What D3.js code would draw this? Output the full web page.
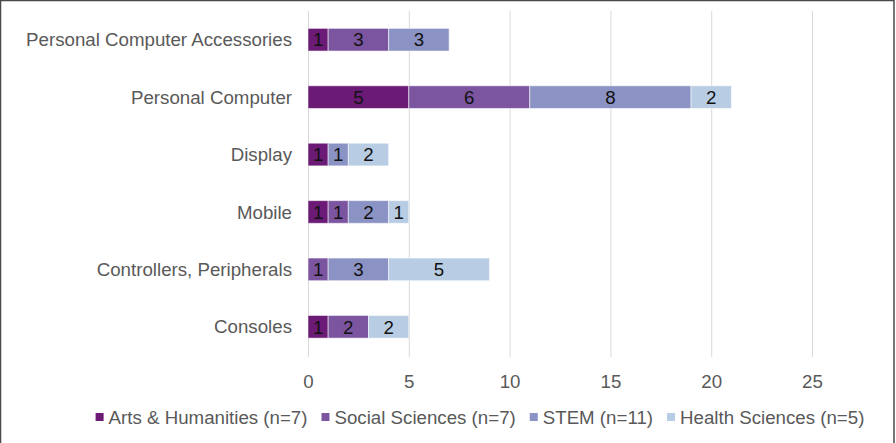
<!DOCTYPE html>
<html>
<head>
<meta charset="utf-8">
<script src="https://cdn.jsdelivr.net/npm/d3@7"></script>
<style>
  html, body { margin: 0; padding: 0; background: #fff; }
  svg { display: block; font-family: "Liberation Sans", Arial, Helvetica, sans-serif; }
</style>
</head>
<body>
<svg id="chart" width="896" height="443"></svg>
<script>
const categories = ["Personal Computer Accessories", "Personal Computer", "Display", "Mobile", "Controllers, Peripherals", "Consoles"];
const seriesNames = ["Arts & Humanities (n=7)", "Social Sciences (n=7)", "STEM (n=11)", "Health Sciences (n=5)"];
const artsHumanities = [1, 5, 1, 1, 0, 1];
const socialSciences = [3, 6, 0, 1, 1, 2];
const stem = [3, 8, 1, 2, 3, 0];
const healthSciences = [0, 2, 2, 1, 5, 2];
const xTicks = [0, 5, 10, 15, 20, 25];
const colors = ["#6b1a75", "#7b55a0", "#8b93c4", "#b8cce4"];

const seriesValues = [artsHumanities, socialSciences, stem, healthSciences];
const rows = categories.map((c, i) => {
  const r = { category: c };
  seriesNames.forEach((s, j) => r[s] = seriesValues[j][i]);
  return r;
});
const stacked = d3.stack().keys(seriesNames)(rows);

const svg = d3.select("#chart");
const W = 896, H = 443;
const FS = "18.7px";

// outer frame
svg.append("rect").attr("x", 0.5).attr("y", 0.5).attr("width", 893.5).attr("height", H + 10)
  .attr("fill", "none").attr("stroke", "#4a4a4a").attr("stroke-width", 1.5);

const x = d3.scaleLinear().domain([0, 25]).range([308, 812]);
const y = d3.scaleBand().domain(categories).range([11, 355.5]).paddingInner(0.605).paddingOuter(0.3025);

// gridlines
svg.append("g").selectAll("line").data(xTicks).join("line")
  .attr("x1", d => x(d) + 0.5).attr("x2", d => x(d) + 0.5)
  .attr("y1", 11).attr("y2", 357)
  .attr("stroke", "#d9d9d9").attr("stroke-width", 1);

// x axis tick labels
const xAxis = d3.axisBottom(x).tickValues(xTicks).tickSize(0).tickPadding(0);
const gx = svg.append("g").attr("transform", "translate(0,388)").call(xAxis);
gx.select(".domain").remove();
gx.selectAll("text").attr("fill", "#595959").style("font-size", FS)
  .attr("dy", null).attr("y", 0);

// y axis labels
const yAxis = d3.axisLeft(y).tickSize(0).tickPadding(16);
const gy = svg.append("g").attr("transform", "translate(308,0)").call(yAxis);
gy.select(".domain").remove();
gy.selectAll("text").attr("fill", "#595959").style("font-size", FS).attr("dy", "0.35em");

// bars
const layers = svg.append("g").selectAll("g").data(stacked).join("g")
  .attr("fill", (d, i) => colors[i]);
layers.selectAll("rect").data(d => d.filter(p => p[1] - p[0] > 0)).join("rect")
  .attr("x", d => x(d[0]))
  .attr("width", d => x(d[1]) - x(d[0]))
  .attr("y", d => y(d.data.category))
  .attr("height", y.bandwidth())
  .attr("stroke", "rgba(255,255,255,0.55)").attr("stroke-width", 1);

// data labels
layers.selectAll("text").data(d => d.filter(p => p[1] - p[0] > 0)).join("text")
  .attr("x", d => (x(d[0]) + x(d[1])) / 2)
  .attr("y", d => y(d.data.category) + y.bandwidth() / 2)
  .attr("dy", "0.36em")
  .attr("text-anchor", "middle")
  .attr("fill", "#111")
  .style("font-size", FS)
  .text(d => d[1] - d[0]);

// legend
const legend = svg.append("g");
const items = legend.selectAll("g").data(seriesNames).join("g");
items.append("rect").attr("width", 8).attr("height", 8).attr("y", -4)
  .attr("fill", (d, i) => colors[i]);
items.append("text").attr("x", 13).attr("dy", "0.35em")
  .attr("fill", "#595959").style("font-size", FS).text(d => d);
const widths = [];
items.each(function () {
  const w = 13 + d3.select(this).select("text").node().getComputedTextLength();
  widths.push(w);
});
const gap = 14;
const total = d3.sum(widths) + gap * (widths.length - 1);
let start = 480 - total / 2;
items.attr("transform", (d, i) => {
  const t = `translate(${start},417)`;
  start += widths[i] + gap;
  return t;
});
</script>
</body>
</html>
